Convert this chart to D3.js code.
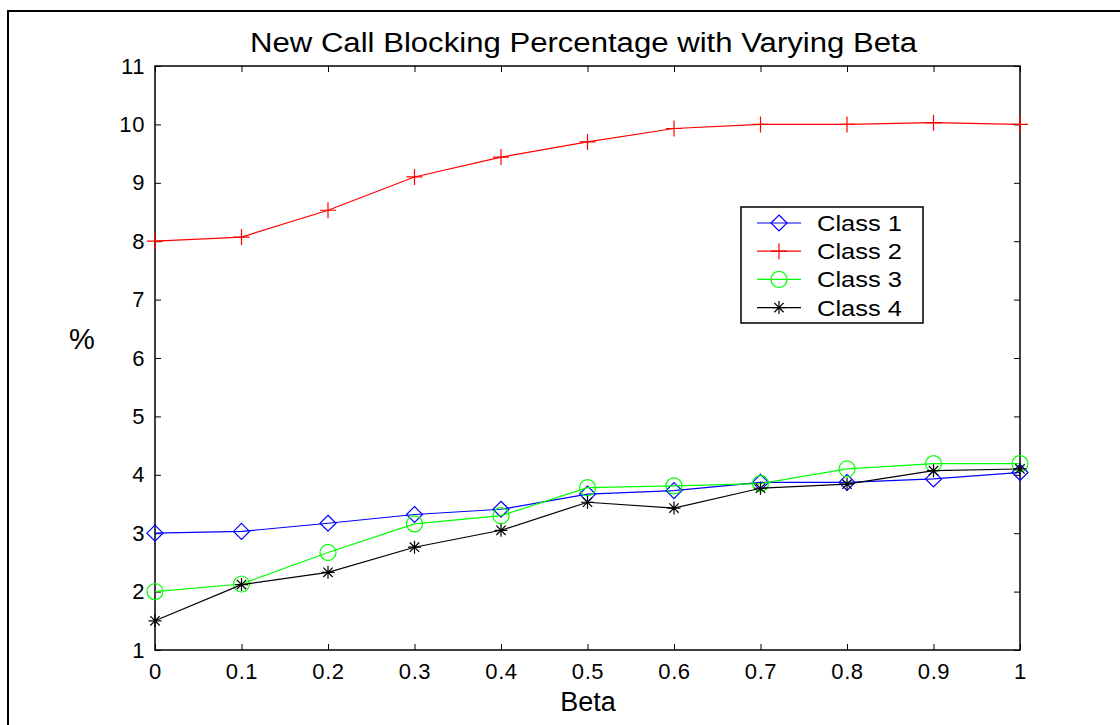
<!DOCTYPE html>
<html>
<head>
<meta charset="utf-8">
<script src="https://cdn.jsdelivr.net/npm/d3@7"></script>
<style>
  html, body { margin: 0; padding: 0; background: #fff; }
  svg { display: block; font-family: "Liberation Sans", Arial, sans-serif; }
</style>
</head>
<body>
<svg id="chart" width="1120" height="725"></svg>
<script>
// Blocking percentage of new calls for each class as beta varies
const beta = [0, 0.1, 0.2, 0.3, 0.4, 0.5, 0.6, 0.7, 0.8, 0.9, 1];
const class1 = [3.00, 3.03, 3.17, 3.32, 3.41, 3.67, 3.73, 3.87, 3.87, 3.93, 4.04];
const class2 = [8.00, 8.07, 8.53, 9.10, 9.44, 9.70, 9.93, 10.00, 10.00, 10.03, 10.00];
const class3 = [2.00, 2.13, 2.67, 3.16, 3.30, 3.78, 3.81, 3.85, 4.10, 4.19, 4.19];
const class4 = [1.50, 2.12, 2.33, 2.76, 3.05, 3.53, 3.43, 3.77, 3.84, 4.07, 4.10];
const xTicks = [0, 0.1, 0.2, 0.3, 0.4, 0.5, 0.6, 0.7, 0.8, 0.9, 1];
const yTicks = [1, 2, 3, 4, 5, 6, 7, 8, 9, 10, 11];
const seriesNames = ["Class 1", "Class 2", "Class 3", "Class 4"];

const series = [
  { name: seriesNames[0], values: class1, color: "#0000ff", marker: "diamond" },
  { name: seriesNames[1], values: class2, color: "#ff0000", marker: "plus" },
  { name: seriesNames[2], values: class3, color: "#00ff00", marker: "circle" },
  { name: seriesNames[3], values: class4, color: "#000000", marker: "star" }
];

const svg = d3.select("#chart");
const plotL = 155, plotR = 1020, plotT = 66, plotB = 650;

// outer figure frame
svg.append("rect")
  .attr("x", 8).attr("y", 11)
  .attr("width", 1200).attr("height", 800)
  .attr("fill", "none").attr("stroke", "#000").attr("stroke-width", 2);

const x = d3.scaleLinear().domain([0, 1]).range([plotL, plotR]);
const y = d3.scaleLinear().domain([1, 11]).range([plotB, plotT]);

const tickLen = 6;
const fontSize = 22;

// axes with inward ticks on all four sides
const gx = svg.append("g").attr("transform", `translate(0,${plotB})`)
  .call(d3.axisBottom(x).tickValues(xTicks).tickSizeInner(-tickLen).tickSizeOuter(0)
    .tickPadding(13).tickFormat(d3.format("")));
const gxTop = svg.append("g").attr("transform", `translate(0,${plotT})`)
  .call(d3.axisTop(x).tickValues(xTicks).tickSizeInner(-tickLen).tickSizeOuter(0).tickFormat(""));
const gy = svg.append("g").attr("transform", `translate(${plotL},0)`)
  .call(d3.axisLeft(y).tickValues(yTicks).tickSizeInner(-tickLen).tickSizeOuter(0)
    .tickPadding(10).tickFormat(d3.format("d")));
const gyRight = svg.append("g").attr("transform", `translate(${plotR},0)`)
  .call(d3.axisRight(y).tickValues(yTicks).tickSizeInner(-tickLen).tickSizeOuter(0).tickFormat(""));

[gx, gxTop, gy, gyRight].forEach(g => {
  g.select(".domain").remove();
  g.selectAll(".tick line").attr("stroke", "#000").attr("stroke-width", 1);
  g.selectAll("text").attr("fill", "#000").style("font-size", fontSize + "px")
    .style("font-family", "'Liberation Sans', Arial, sans-serif")
    .style("letter-spacing", "0.6px");
});
gx.selectAll("text").attr("dy", "0.71em");

// plot box
svg.append("rect")
  .attr("x", plotL).attr("y", plotT)
  .attr("width", plotR - plotL).attr("height", plotB - plotT)
  .attr("fill", "none").attr("stroke", "#000").attr("stroke-width", 1.5);

// marker shapes
function markerPath(type, cx, cy) {
  const s = 8;
  switch (type) {
    case "diamond":
      return `M${cx},${cy - s}L${cx + s},${cy}L${cx},${cy + s}L${cx - s},${cy}Z`;
    case "plus":
      return `M${cx - s},${cy}H${cx + s}M${cx},${cy - s}V${cy + s}`;
    case "circle":
      return `M${cx - s},${cy}A${s},${s} 0 1,0 ${cx + s},${cy}A${s},${s} 0 1,0 ${cx - s},${cy}Z`;
    case "star": {
      const a = 6.5, d = a * 0.72;
      return `M${cx - a},${cy}H${cx + a}M${cx},${cy - a}V${cy + a}` +
             `M${cx - d},${cy - d}L${cx + d},${cy + d}M${cx - d},${cy + d}L${cx + d},${cy - d}`;
    }
  }
}

const line = d3.line().x((d, i) => x(beta[i])).y(d => y(d));

series.forEach(s => {
  const g = svg.append("g");
  g.append("path").datum(s.values)
    .attr("d", line).attr("fill", "none")
    .attr("stroke", s.color).attr("stroke-width", 1.2);
  g.selectAll("path.m").data(s.values).join("path")
    .attr("class", "m")
    .attr("d", (d, i) => markerPath(s.marker, x(beta[i]), y(d)))
    .attr("fill", "none").attr("stroke", s.color).attr("stroke-width", 1.2);
});

// legend
const lg = svg.append("g");
lg.append("rect")
  .attr("x", 741).attr("y", 207).attr("width", 182).attr("height", 116)
  .attr("fill", "#fff").attr("stroke", "#000").attr("stroke-width", 1.5);
series.forEach((s, i) => {
  const cy = 223 + i * 28.2;
  lg.append("line").attr("x1", 757).attr("x2", 801).attr("y1", cy).attr("y2", cy)
    .attr("stroke", s.color).attr("stroke-width", 1.2);
  lg.append("path").attr("d", markerPath(s.marker, 779, cy))
    .attr("fill", "none").attr("stroke", s.color).attr("stroke-width", 1.2);
  lg.append("text").attr("x", 817).attr("y", cy).attr("dy", "0.36em")
    .attr("textLength", 85).attr("lengthAdjust", "spacingAndGlyphs")
    .style("font-size", "22px").text(s.name);
});

// title and axis labels
svg.append("text").attr("x", 583.5).attr("y", 52).attr("text-anchor", "middle")
  .attr("textLength", 667).attr("lengthAdjust", "spacingAndGlyphs")
  .style("font-size", "27px").text("New Call Blocking Percentage with Varying Beta");
svg.append("text").attr("x", 588).attr("y", 711).attr("text-anchor", "middle")
  .style("font-size", "27px").text("Beta");
svg.append("text").attr("x", 82).attr("y", 349).attr("text-anchor", "middle")
  .style("font-size", "29px").text("%");
</script>
</body>
</html>
